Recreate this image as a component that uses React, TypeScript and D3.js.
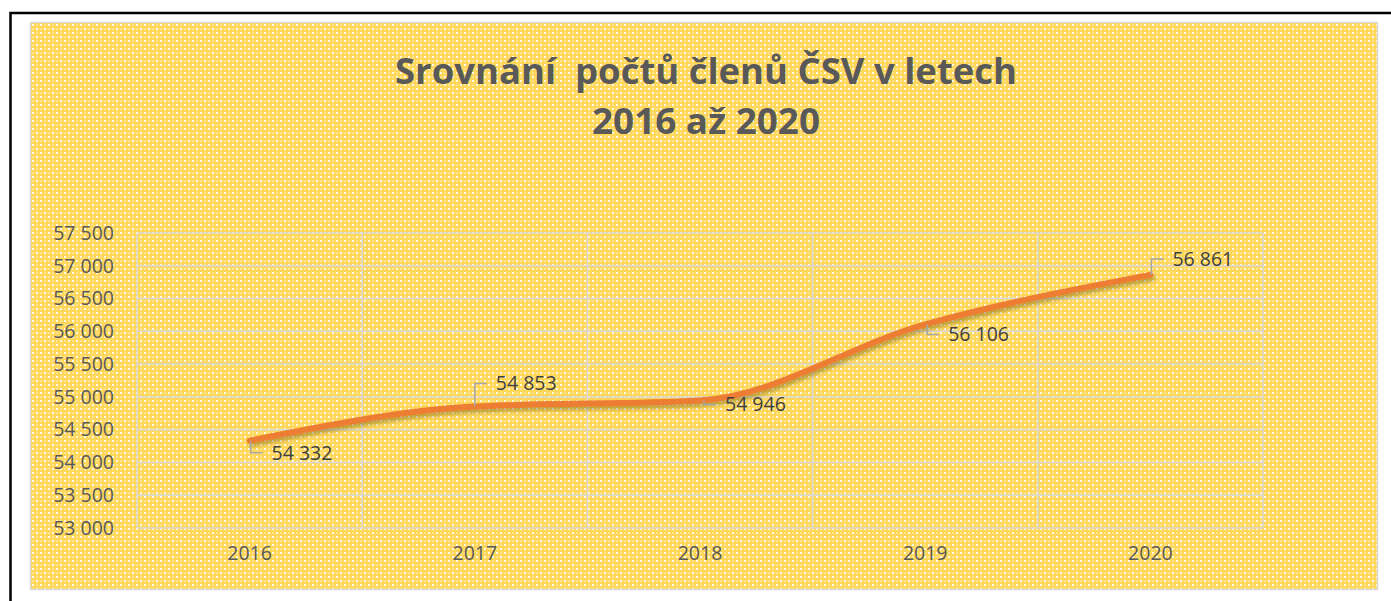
import React from "react";
import * as d3 from "d3";

const years = ["2016", "2017", "2018", "2019", "2020"];
const members = [54332, 54853, 54946, 56106, 56861];
const yTicks = [53000, 53500, 54000, 54500, 55000, 55500, 56000, 56500, 57000, 57500];
const titleLines = ["Srovnání  počtů členů ČSV v letech", "2016 až 2020"];
// label placement (leader line to label) relative to point: [leaderDx, leaderDy]
const labelOffsets: [number, number][] = [
  [1, 12],
  [0, -23],
  [4, 4],
  [2, 10],
  [1, -16],
];

const W = 1391;
const H = 601;
const plot = { left: 137, right: 1263, top: 233, bottom: 528 };

const fmt = (v: number) => String(v).replace(/\B(?=(\d{3})+(?!\d))/g, " ");

export default function App() {
  const x = d3.scaleBand<string>().domain(years).range([plot.left, plot.right]);
  const y = d3.scaleLinear().domain([53000, 57500]).range([plot.bottom, plot.top]);
  const pts: [number, number][] = years.map((yr, i) => [x(yr)! + x.bandwidth() / 2, y(members[i])]);
  const line = d3.line().curve(d3.curveMonotoneX)(pts) || "";
  const font = "'Open Sans', 'DejaVu Sans', sans-serif";
  const textColor = "#595959";
  const grid = "#D9D9D9";

  return (
    <div style={{ position: "fixed", left: 0, top: 0 }}>
      <svg width={W} height={H} style={{ display: "block" }}>
        <defs>
          <pattern id="bg" width="8" height="8" patternUnits="userSpaceOnUse">
            <rect width="8" height="8" fill="#FFD75A" />
            <rect x="0" y="0" width="2" height="2" fill="#FFFFFF" opacity="0.85" />
            <rect x="4" y="4" width="2" height="2" fill="#FFFFFF" opacity="0.85" />
            <rect x="4" y="0" width="2" height="2" fill="#FFFFFF" opacity="0.3" />
            <rect x="0" y="4" width="2" height="2" fill="#FFFFFF" opacity="0.3" />
          </pattern>
          <filter id="shadow" x="-10%" y="-50%" width="120%" height="200%">
            <feDropShadow dx="2" dy="3" stdDeviation="2" floodColor="#5a4a10" floodOpacity="0.45" />
          </filter>
        </defs>
        <rect x={0} y={0} width={W} height={H} fill="#FFFFFF" />
        <rect x={10.5} y={13} width={W + 20} height={H + 20} fill="none" stroke="#000" strokeWidth={2.5} />
        <rect x={30.5} y={22.5} width={1347} height={567} fill="url(#bg)" stroke={grid} strokeWidth={1.5} />

        {titleLines.map((t, i) => (
          <text
            key={i}
            x={706}
            y={84 + i * 50}
            textAnchor="middle"
            fontFamily={font}
            fontWeight="bold"
            fontSize={36}
            fill={textColor}
            textLength={i === 0 ? 622 : 228}
            lengthAdjust="spacingAndGlyphs"
            style={{ whiteSpace: "pre" }}
          >
            {t}
          </text>
        ))}

        {yTicks.map((t) => (
          <line key={t} x1={plot.left} x2={plot.right} y1={y(t)} y2={y(t)} stroke={grid} strokeWidth={1.5} />
        ))}
        {years.map((yr) => (
          <line key={yr} x1={x(yr)!} x2={x(yr)!} y1={plot.top} y2={plot.bottom} stroke={grid} strokeWidth={1.5} />
        ))}
        <line x1={plot.right} x2={plot.right} y1={plot.top} y2={plot.bottom} stroke={grid} strokeWidth={1.5} />

        {yTicks.map((t) => (
          <text key={t} x={114} y={y(t)} dy="0.35em" textAnchor="end" fontFamily={font} fontSize={19.5} fill={textColor}>
            {fmt(t)}
          </text>
        ))}
        {years.map((yr) => (
          <text key={yr} x={x(yr)! + x.bandwidth() / 2} y={560} textAnchor="middle" fontFamily={font} fontSize={19.5} fill={textColor}>
            {yr}
          </text>
        ))}

        <path d={line} fill="none" stroke="#ED7D31" strokeWidth={6} strokeLinecap="round" strokeLinejoin="round" filter="url(#shadow)" />

        {pts.map(([px, py], i) => {
          const [ldx, ldy] = labelOffsets[i];
          const ey = py + ldy;
          const ex = px + ldx;
          const hx = ex + 12;
          return (
            <g key={i}>
              <polyline points={`${px + ldx},${py} ${ex},${ey} ${hx},${ey}`} fill="none" stroke="#A6A6A6" strokeWidth={1.5} />
              <text x={hx + 9} y={ey} dy="0.35em" fontFamily={font} fontSize={19.5} fill="#404040">
                {fmt(members[i])}
              </text>
            </g>
          );
        })}
      </svg>
    </div>
  );
}
